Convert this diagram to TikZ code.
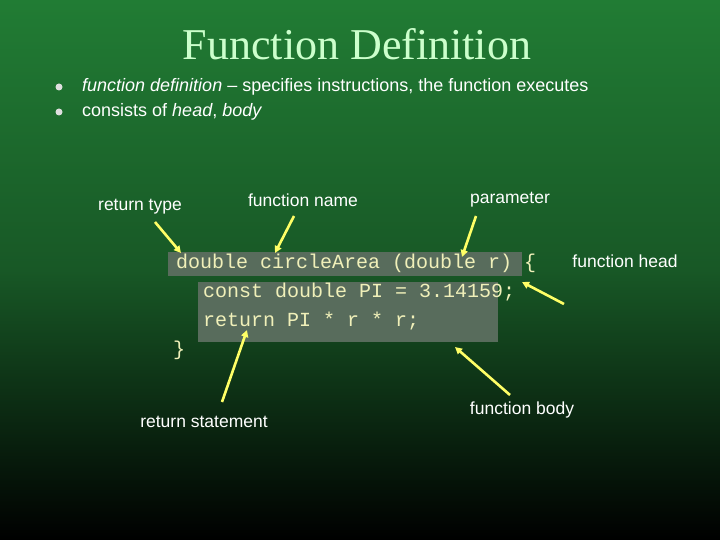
\documentclass[tikz,border=0pt]{standalone}
\usepackage{fontspec}
\setmainfont{Liberation Sans}
\newfontfamily\titlefont{Liberation Serif}
\newfontfamily\codefont{Liberation Mono}
\usetikzlibrary{arrows.meta}
\definecolor{bgtop}{RGB}{33,124,52}
\definecolor{bgmid}{RGB}{24,88,38}
\definecolor{titlecol}{RGB}{204,255,204}
\definecolor{codecol}{RGB}{240,240,185}
\definecolor{arrowcol}{RGB}{255,255,102}
\definecolor{boxcol}{RGB}{88,108,92}
\tikzset{
  lbl/.style={text=white,font=\fontsize{17.5}{20}\selectfont,inner sep=0pt},
  blt/.style={text=white,font=\fontsize{18}{20}\selectfont,inner sep=0pt,anchor=west},
  code/.style={text=codecol,font=\codefont\fontsize{20}{22}\selectfont,inner sep=0pt,anchor=base west},
  codebox/.style={fill=boxcol,draw=none},
  ptr/.style={draw=arrowcol,line width=2.6pt,-{Triangle[length=7pt,width=7pt]}},
  bul/.style={circle,fill=white!75!gray,inner sep=0pt,minimum size=7pt},
}
\begin{document}
\begin{tikzpicture}[x=1pt,y=-1pt]
\useasboundingbox (0,0) rectangle (720,540);
\shade[top color=bgtop,bottom color=bgmid] (0,0) rectangle (720,270);
\shade[top color=bgmid,bottom color=black] (0,270) rectangle (720,540);
% title
\node[text=titlecol,font=\titlefont\fontsize{44}{50}\selectfont,inner sep=0pt] (title) at (357,44) {Function Definition};
% bullets
\node[bul] (b1) at (59,87) {};
\node[bul] (b2) at (59,112) {};
\node[blt] (t1) at (82,87) {\textit{function definition} -- specifies instructions, the function executes};
\node[blt] (t2) at (82,112) {consists of \textit{head}, \textit{body}};
% code boxes
\fill[codebox] (168,252) rectangle (522,276);
\fill[codebox] (198,282) rectangle (498,342);
\node[code] (c1) at (176,268) {double circleArea (double r) \{};
\node[code] (c2) at (203,297) {const double PI = 3.14159;};
\node[code] (c3) at (203,326) {return PI * r * r;};
\node[code] (c4) at (173,355) {\}};
% labels
\node[lbl] (rtype) at (140,207) {return type};
\node[lbl] (fname) at (303,200) {function name};
\node[lbl] (param) at (510,200) {parameter};
\node[lbl] (fhead) at (625,261) {function head};
\node[lbl] (rstmt) at (204,422) {return statement};
\node[lbl] (fbody) at (522,410) {function body};
% arrow endpoints
\coordinate (rtA) at (155,222); \coordinate (rtB) at (181,253);
\coordinate (fnA) at (294,216); \coordinate (fnB) at (275,253);
\coordinate (paA) at (476,216); \coordinate (paB) at (462,257);
\coordinate (fhA) at (564,304); \coordinate (fhB) at (522,282);
\coordinate (rsA) at (222,402); \coordinate (rsB) at (247,330);
\coordinate (fbA) at (510,395); \coordinate (fbB) at (455,347);
\draw[ptr] (rtA) -- (rtB);
\draw[ptr] (fnA) -- (fnB);
\draw[ptr] (paA) -- (paB);
\draw[ptr] (fhA) -- (fhB);
\draw[ptr] (rsA) -- (rsB);
\draw[ptr] (fbA) -- (fbB);
\end{tikzpicture}
\end{document}
